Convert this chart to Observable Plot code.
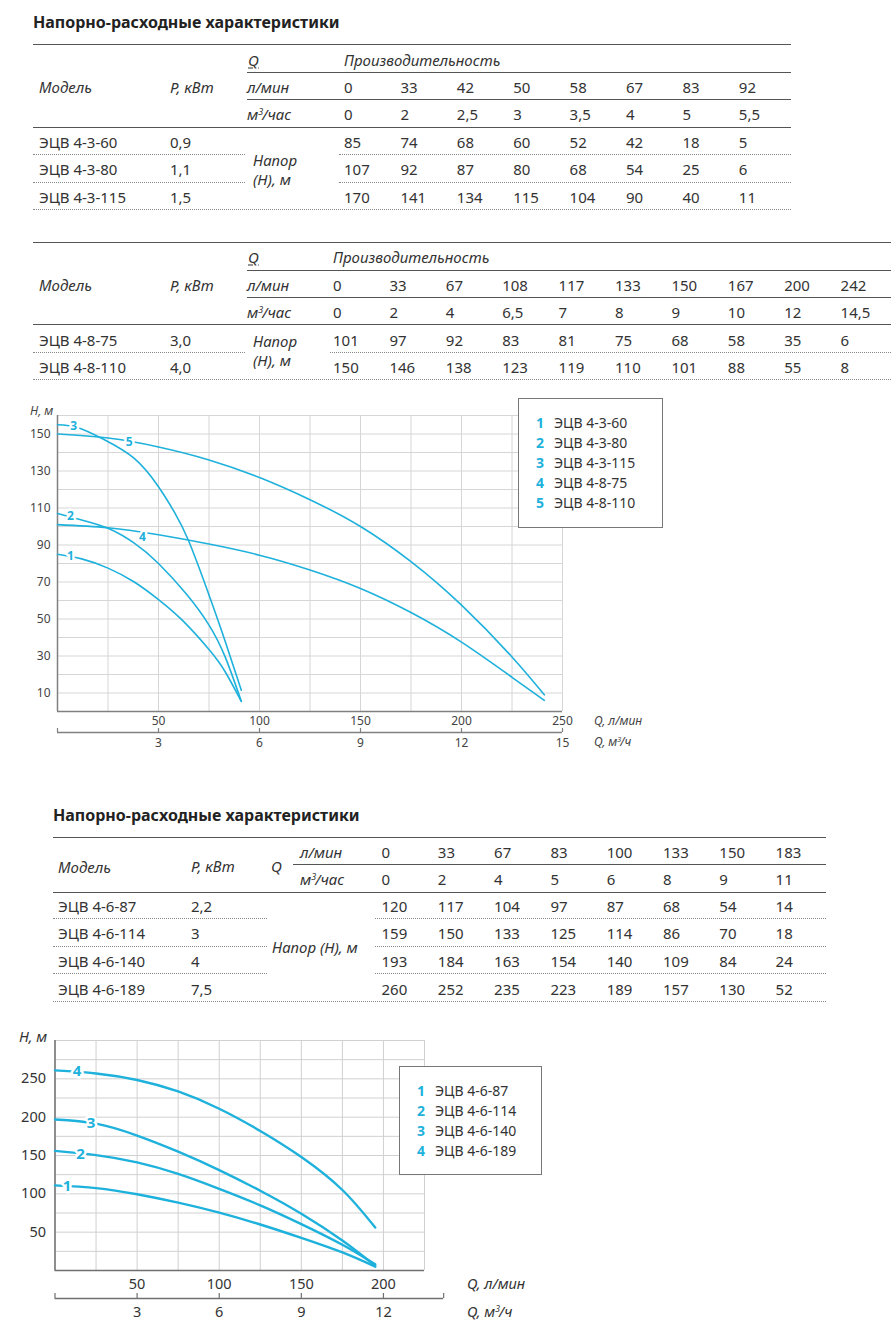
<!DOCTYPE html>
<html><head><meta charset="utf-8">
<script src="https://cdn.jsdelivr.net/npm/d3@7"></script>
<script src="https://cdn.jsdelivr.net/npm/@observablehq/plot@0.6"></script>
<style>
body{margin:0;background:#fff;font-family:"Noto Sans",sans-serif;color:#333;}
#page{position:relative;width:896px;height:1330px;overflow:hidden;}
.t{position:absolute;white-space:nowrap;line-height:1;transform:translateY(-50%);font-size:15px;}
.i{font-style:italic;}
.b{font-weight:bold;}
.u{text-decoration:underline;text-underline-offset:2px;}
.hl{position:absolute;height:0;border-top:1.5px solid #555;}
.dl{position:absolute;height:0;border-top:1px dotted #888;}
sup{font-size:0.6em;line-height:0;vertical-align:0.55em;margin-right:-1px;}
.legend{position:absolute;border:1.5px solid #777;background:#fff;box-sizing:border-box;}
.plotwrap{position:absolute;left:0;}
</style></head>
<body><div id="page"></div>
<script>
// ---------- data ----------
const title = "Напорно-расходные характеристики";
// Table 1
const t1Lmin = ["0","33","42","50","58","67","83","92"];
const t1M3 = ["0","2","2,5","3","3,5","4","5","5,5"];
const t1Models = ["ЭЦВ 4-3-60","ЭЦВ 4-3-80","ЭЦВ 4-3-115"];
const t1Power = ["0,9","1,1","1,5"];
const t1Head = [[85,74,68,60,52,42,18,5],[107,92,87,80,68,54,25,6],[170,141,134,115,104,90,40,11]];
// Table 2
const t2Lmin = ["0","33","67","108","117","133","150","167","200","242"];
const t2M3 = ["0","2","4","6,5","7","8","9","10","12","14,5"];
const t2Models = ["ЭЦВ 4-8-75","ЭЦВ 4-8-110"];
const t2Power = ["3,0","4,0"];
const t2Head = [[101,97,92,83,81,75,68,58,35,6],[150,146,138,123,119,110,101,88,55,8]];
// Table 3
const t3Lmin = ["0","33","67","83","100","133","150","183"];
const t3M3 = ["0","2","4","5","6","8","9","11"];
const t3Models = ["ЭЦВ 4-6-87","ЭЦВ 4-6-114","ЭЦВ 4-6-140","ЭЦВ 4-6-189"];
const t3Power = ["2,2","3","4","7,5"];
const t3Head = [[120,117,104,97,87,68,54,14],[159,150,133,125,114,86,70,18],[193,184,163,154,140,109,84,24],[260,252,235,223,189,157,130,52]];

// Chart 1 curves, Q in l/min, H in m
const c1Num = ["1","2","3","4","5"];
const c1Q = [
  [0,12,25,38,50,62,75,83,91],
  [0,12,25,38,50,64,75,83,91],
  [0,10,23,38,50,58,65,75,83,91],
  [0,25,50,75,100,125,150,175,200,225,241],
  [0,25,50,75,100,125,150,175,200,225,241]
];
const c1H = [
  [85,82.5,77.5,70,60.5,49.1,33.5,21.5,5.5],
  [107,103.5,99,91,80,63.2,46.7,29.5,5.5],
  [155,153.5,147,136.8,121.5,107.5,92,63,38,11.5],
  [101,99.3,95.5,90.5,84.5,76.5,66.5,53.5,37.5,18.5,6],
  [150,147.8,143,136,126.5,114.5,100,81,57.5,29.5,9]
];
const c1LabelQ = [6.4,6.4,8,42,35.5];
const c1LabelH = [84,105.5,154.5,94.5,145.5];
const c1XTicks = [50,100,150,200,250];
const c1YTicks = [10,30,50,70,90,110,130,150];
const c1M3Ticks = [3,6,9,12,15];

// Chart 2 curves
const c2Num = ["1","2","3","4"];
const c2Q = [0,25,50,75,100,125,150,175,195];
const c2H = [
  [111,107.5,99.5,88.5,75.5,60,42.5,23.5,5],
  [156,150.5,141,126,106.5,85,60.5,33.5,8],
  [197,191.5,176,155,131,104,74,39,6],
  [261,257,248.5,233.5,211,182,148,105,56]
];
const c2LabelQ = [7.4,15.5,22,13.5];
const c2LabelH = [110,152,192.5,260];
const c2XTicks = [50,100,150,200];
const c2YTicks = [50,100,150,200,250];
const c2M3Ticks = [3,6,9,12];
const c2M3AxisEnd = 14.2;

const CYAN = "#1eb1dc";
const TXT = "#333";

// ---------- helpers ----------
const page = document.getElementById("page");
function T(x, y, html, cls = "", style = "") {
  const d = document.createElement("div");
  d.className = "t " + cls;
  d.style.left = x + "px"; d.style.top = y + "px";
  if (style) d.style.cssText += style;
  d.innerHTML = html;
  page.appendChild(d);
  return d;
}
function H(x1, x2, y, cls = "hl") {
  const d = document.createElement("div");
  d.className = cls;
  d.style.left = x1 + "px"; d.style.top = y + "px"; d.style.width = (x2 - x1) + "px";
  page.appendChild(d);
}
const m3 = "м<sup>3</sup>/час";

// ---------- Table 1 ----------
T(33, 22, title, "b", "font-size:16px;color:#222;");
{
  const L = 33, R = 791, Lq = 247, c0 = 344, st = 56.4;
  H(L, R, 44); H(Lq, R, 71.5); H(Lq, R, 99); H(L, R, 126.5);
  T(248, 60, "Q", "i u"); T(c0, 60, "Производительность", "i");
  T(39, 87, "Модель", "i"); T(170, 87, "P, кВт", "i");
  T(247, 87, "л/мин", "i"); T(247, 114, m3, "i");
  t1Lmin.forEach((v, i) => T(c0 + i * st, 87, v));
  t1M3.forEach((v, i) => T(c0 + i * st, 114, v));
  const ry = [141.5, 169, 196.5], dy = [154.3, 181.7, 209];
  t1Models.forEach((m, r) => {
    T(39, ry[r], m); T(170, ry[r], t1Power[r]);
    t1Head[r].forEach((v, i) => T(c0 + i * st, ry[r], String(v)));
  });
  T(253, 159.5, "Напор", "i"); T(253, 178.5, "(H), м", "i");
  H(L, 245, dy[0], "dl"); H(339, R, dy[0], "dl");
  H(L, 245, dy[1], "dl"); H(339, R, dy[1], "dl");
  H(L, R, dy[2], "dl");
}
// ---------- Table 2 ----------
{
  const L = 33, R = 891, Lq = 247, c0 = 333, st = 56.4;
  H(L, R, 242.3); H(Lq, R, 269.5); H(Lq, R, 296.5); H(L, R, 323.8);
  T(248, 257, "Q", "i u"); T(c0, 257, "Производительность", "i");
  T(39, 284.5, "Модель", "i"); T(170, 284.5, "P, кВт", "i");
  T(247, 284.5, "л/мин", "i"); T(247, 311.5, m3, "i");
  t2Lmin.forEach((v, i) => T(c0 + i * st, 284.5, v));
  t2M3.forEach((v, i) => T(c0 + i * st, 311.5, v));
  const ry = [339.5, 366.5], dy = [351.7, 379.3];
  t2Models.forEach((m, r) => {
    T(39, ry[r], m); T(170, ry[r], t2Power[r]);
    t2Head[r].forEach((v, i) => T(c0 + i * st, ry[r], String(v)));
  });
  T(253, 340.5, "Напор", "i"); T(253, 359.5, "(H), м", "i");
  H(L, 245, dy[0], "dl"); H(330, R, dy[0], "dl");
  H(L, R, dy[1], "dl");
}
// ---------- Table 3 ----------
T(53, 815, title, "b", "font-size:16px;color:#222;");
{
  const L = 53, R = 826, c0 = 381.5, st = 56.3;
  H(L, R, 836.7); H(293, R, 864.3); H(L, R, 891.5);
  T(58, 867, "Модель", "i"); T(191, 866, "P, кВт", "i");
  T(271, 866, "Q", "i");
  T(300, 851.5, "л/мин", "i"); T(300, 878.5, m3, "i");
  t3Lmin.forEach((v, i) => T(c0 + i * st, 851.5, v));
  t3M3.forEach((v, i) => T(c0 + i * st, 878.5, v));
  const ry = [905.7, 933.3, 960.7, 989], dy = [918.3, 945.7, 973.3, 1001];
  t3Models.forEach((m, r) => {
    T(58, ry[r], m); T(191, ry[r], t3Power[r]);
    t3Head[r].forEach((v, i) => T(c0 + i * st, ry[r], String(v)));
  });
  T(272, 946.5, "Напор (H), м", "i");
  for (let k = 0; k < 3; k++) { H(L, 267, dy[k], "dl"); H(375, R, dy[k], "dl"); }
  H(L, R, dy[3], "dl");
}

// ---------- chart helpers ----------
function place(svg, top) {
  const w = document.createElement("div");
  w.className = "plotwrap";
  w.style.top = top + "px";
  w.appendChild(svg);
  page.appendChild(w);
}
const svgStyle = {background: "transparent", overflow: "visible", fontFamily: "Noto Sans", color: TXT};

function curveRows(nums, qs, hs) {
  const rows = [];
  nums.forEach((n, k) => {
    const q = Array.isArray(qs[0]) ? qs[k] : qs;
    q.forEach((qq, i) => rows.push({n, q: qq, h: hs[k][i]}));
  });
  return rows;
}

// ---------- Chart 1 ----------
{
  const rows = curveRows(c1Num, c1Q, c1H);
  const labels = c1Num.map((n, k) => ({n, q: c1LabelQ[k], h: c1LabelH[k]}));
  const main = Plot.plot({
    width: 700, height: 330,
    marginLeft: 57, marginRight: 138, marginTop: 19, marginBottom: 15,
    style: svgStyle,
    x: {domain: [0, 250]}, y: {domain: [0, 160]},
    marks: [
      Plot.gridX(d3.range(0, 251, 25), {stroke: "#d6d6d6", strokeOpacity: 1}),
      Plot.gridY(d3.range(0, 161, 10), {stroke: "#d6d6d6", strokeOpacity: 1}),
      Plot.ruleY([0], {stroke: "#808080", strokeWidth: 1.5}),
      Plot.ruleX([0], {stroke: "#808080", strokeWidth: 1.5}),
      Plot.axisX(c1XTicks, {tickSize: 0, tickPadding: 5, fontSize: 12, label: null, fill: "#444"}),
      Plot.axisY(c1YTicks, {tickSize: 0, tickPadding: 7, fontSize: 12, label: null, fill: "#444"}),
      Plot.line(rows, {x: "q", y: "h", z: "n", stroke: CYAN, strokeWidth: 1.6, curve: "natural"}),
      Plot.text(labels, {x: "q", y: "h", text: "n", fill: CYAN, stroke: "white", strokeWidth: 5, fontWeight: "bold", fontSize: 12})
    ]
  });
  place(main, 396);
  const sec = Plot.plot({
    width: 700, height: 40,
    marginLeft: 57, marginRight: 138, marginTop: 1, marginBottom: 35,
    style: svgStyle,
    x: {domain: [0, 15]}, y: {domain: [0, 1], axis: null},
    marks: [
      Plot.ruleY([0], {x1: 0, x2: 15, stroke: "#808080", strokeWidth: 1.5}),
      Plot.ruleX([0, ...c1M3Ticks], {y1: 0, y2: 1, stroke: "#808080", strokeWidth: 1.2}),
      Plot.axisX(c1M3Ticks, {tickSize: 0, tickPadding: 6, fontSize: 12, label: null, fill: "#444"})
    ]
  });
  place(sec, 727);
  T(30, 411, "H, м", "i", "font-size:12px;color:#444;");
  T(594, 721, "Q, л/мин", "i", "font-size:12px;color:#444;");
  T(594, 742, "Q, м<sup>3</sup>/ч", "i", "font-size:12px;color:#444;");
  const lg = document.createElement("div");
  lg.className = "legend";
  lg.style.cssText += "left:518px;top:398px;width:145px;height:130px;";
  page.appendChild(lg);
  [...t1Models, ...t2Models].forEach((m, k) => {
    T(536, 423.3 + k * 20, c1Num[k], "b", `font-size:14px;color:${CYAN};`);
    T(554, 423.3 + k * 20, m, "", "font-size:14px;");
  });
}

// ---------- Chart 2 ----------
{
  const rows = curveRows(c2Num, c2Q, c2H);
  const labels = c2Num.map((n, k) => ({n, q: c2LabelQ[k], h: c2LabelH[k]}));
  const main = Plot.plot({
    width: 460, height: 270,
    marginLeft: 54.5, marginRight: 36, marginTop: 20, marginBottom: 20,
    style: svgStyle,
    x: {domain: [0, 225]}, y: {domain: [0, 300]},
    marks: [
      Plot.gridX(d3.range(0, 226, 25), {stroke: "#d0d0d0", strokeOpacity: 1}),
      Plot.gridY(d3.range(0, 301, 25), {stroke: "#d0d0d0", strokeOpacity: 1}),
      Plot.ruleY([0], {stroke: "#707070", strokeWidth: 1.5}),
      Plot.ruleX([0], {stroke: "#707070", strokeWidth: 1.5}),
      Plot.axisX(c2XTicks, {tickSize: 0, tickPadding: 8, fontSize: 14.5, label: null, fill: "#333"}),
      Plot.axisY(c2YTicks, {tickSize: 0, tickPadding: 9, fontSize: 14.5, label: null, fill: "#333"}),
      Plot.line(rows, {x: "q", y: "h", z: "n", stroke: CYAN, strokeWidth: 2.4, curve: "natural"}),
      Plot.text(labels, {x: "q", y: "h", text: "n", fill: CYAN, stroke: "white", strokeWidth: 5, fontWeight: "bold", fontSize: 15})
    ]
  });
  place(main, 1020);
  const sec = Plot.plot({
    width: 460, height: 38,
    marginLeft: 54.5, marginRight: 36, marginTop: 1, marginBottom: 32,
    style: svgStyle,
    x: {domain: [0, 13.5]}, y: {domain: [0, 1], axis: null},
    marks: [
      Plot.ruleY([0], {x1: 0, x2: c2M3AxisEnd, stroke: "#707070", strokeWidth: 1.5}),
      Plot.ruleX([0, ...c2M3Ticks, c2M3AxisEnd], {y1: 0, y2: 1, stroke: "#707070", strokeWidth: 1.2}),
      Plot.axisX(c2M3Ticks, {tickSize: 0, tickPadding: 8, fontSize: 14.5, label: null, fill: "#333"})
    ]
  });
  place(sec, 1292);
  T(19, 1036, "H, м", "i", "font-size:14.5px;");
  T(467, 1283, "Q, л/мин", "i", "font-size:14.5px;");
  T(467, 1311, "Q, м<sup>3</sup>/ч", "i", "font-size:14.5px;");
  const lg = document.createElement("div");
  lg.className = "legend";
  lg.style.cssText += "left:399px;top:1066px;width:143px;height:109px;";
  page.appendChild(lg);
  t3Models.forEach((m, k) => {
    T(417, 1090.7 + k * 20, c2Num[k], "b", `font-size:14px;color:${CYAN};`);
    T(435, 1090.7 + k * 20, m, "", "font-size:14px;");
  });
}
</script>
</body></html>
